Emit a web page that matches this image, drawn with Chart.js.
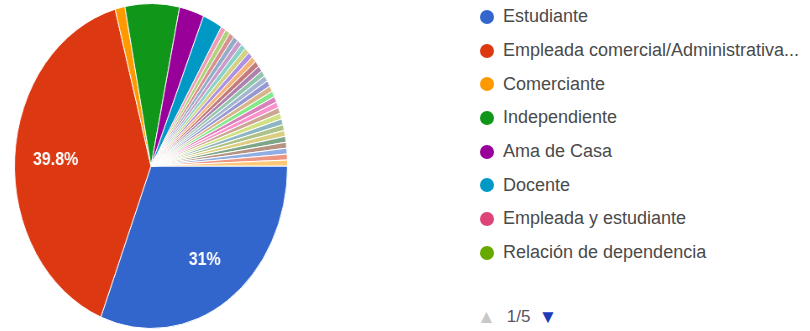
<!DOCTYPE html>
<html>
<head>
<meta charset="utf-8">
<script src="https://cdn.jsdelivr.net/npm/chart.js@4.4.1/dist/chart.umd.min.js"></script>
<style>
	html, body { margin: 0; padding: 0; background: #fff; }
	body { width: 810px; height: 331px; position: relative; overflow: hidden; font-family: "Liberation Sans", Arial, sans-serif; }
	#pieBox { position: absolute; left: -12px; top: 3px; width: 326px; height: 326px; transform: scaleX(0.84); transform-origin: 50% 50%; }
	#legend { position: absolute; left: 480px; top: 0; }
	.row { height: 33.7px; display: flex; align-items: center; font-size: 18px; color: #4a4a4a; white-space: nowrap; }
	.dot { width: 14px; height: 14px; border-radius: 50%; margin-right: 9px; flex: none; }
	#pager { position: absolute; left: 477px; top: 305px; height: 24px; display: flex; align-items: center; font-size: 17px; }
	#pager .up { color: #c8c8c8; font-size: 19px; }
	#pager .page { color: #556; margin: 0 8px 0 11px; }
	#pager .down { color: #1e3bb8; font-size: 19px; }
</style>
</head>
<body>
<div id="pieBox"><canvas id="pie"></canvas></div>
<div id="legend"></div>
<div id="pager"><span class="up">&#9650;</span><span class="page">1/5</span><span class="down">&#9660;</span></div>
<script>
// respuestas por ocupación (171 en total)
const categories = [
	'Estudiante',
	'Empleada comercial/Administrativa...',
	'Comerciante',
	'Independiente',
	'Ama de Casa',
	'Docente',
	'Empleada y estudiante',
	'Relación de dependencia',
];
const counts = [53, 68, 2, 11, 5, 4, 1, 1];

// las demás respuestas (páginas 2 a 5 de la leyenda), una cada una
const otherCategories = Array.from({ length: 26 }, (_, i) => `Otra ocupación ${i + 9}`);
const otherCounts = [1, 1, 1, 1, 1, 1, 1, 1, 1, 1, 1, 1, 1, 1, 1, 1, 1, 1, 1, 1, 1, 1, 1, 1, 1, 1];

const palette = [
	'#3366cc', '#dc3912', '#ff9900', '#109618', '#990099', '#0099c6', '#dd4477', '#66aa00',
	'#b82e2e', '#316395', '#994499', '#22aa99', '#aaaa11', '#6633cc', '#e67300', '#8b0707',
	'#651067', '#329262', '#5574a6', '#3b3eac', '#b77322', '#16d620', '#b91383', '#f4359e',
	'#9c5935', '#a9c413', '#2a778d', '#668d1c', '#bea413', '#0c5922', '#743411',
];

const labels = categories.concat(otherCategories);
const values = counts.concat(otherCounts);
const colors = labels.map((_, i) => palette[i % palette.length]);
// the thin slices come out washed-out in the original
const pieColors = colors.map((c, i) => i < 6 ? c : c + '88');
const legendItems = 8;

const total = values.reduce((a, b) => a + b, 0);

const percentLabels = {
	id: 'percentLabels',
	afterDatasetsDraw(chart) {
		const { ctx } = chart;
		const meta = chart.getDatasetMeta(0);
		ctx.save();
		ctx.fillStyle = '#fff';
		ctx.font = 'bold 19px "Liberation Sans", Arial, sans-serif';
		ctx.textAlign = 'center';
		ctx.textBaseline = 'middle';
		meta.data.forEach((arc, i) => {
			const pct = values[i] / total * 100;
			if (pct < 10) return;
			const mid = (arc.startAngle + arc.endAngle) / 2;
			const r = arc.outerRadius * 0.7;
			const txt = (Math.round(pct * 10) / 10) + '%';
			ctx.fillText(txt, arc.x + Math.cos(mid) * r, arc.y + Math.sin(mid) * r);
		});
		ctx.restore();
	}
};

new Chart(document.getElementById('pie'), {
	type: 'pie',
	data: {
		labels,
		datasets: [
			{
				data: values,
				backgroundColor: pieColors,
				borderColor: '#fff',
				borderWidth: 1,
			},
		]
	},
	options: {
		responsive: true,
		maintainAspectRatio: false,
		animation: false,
		rotation: 90,
		layout: { padding: 0 },
		plugins: {
			legend: { display: false },
			tooltip: { enabled: false },
		},
	},
	plugins: [percentLabels],
});

const legend = document.getElementById('legend');
labels.slice(0, legendItems).forEach((label, i) => {
	const row = document.createElement('div');
	row.className = 'row';
	const dot = document.createElement('span');
	dot.className = 'dot';
	dot.style.background = colors[i];
	const txt = document.createElement('span');
	txt.textContent = label;
	row.appendChild(dot);
	row.appendChild(txt);
	legend.appendChild(row);
});
</script>
</body>
</html>
